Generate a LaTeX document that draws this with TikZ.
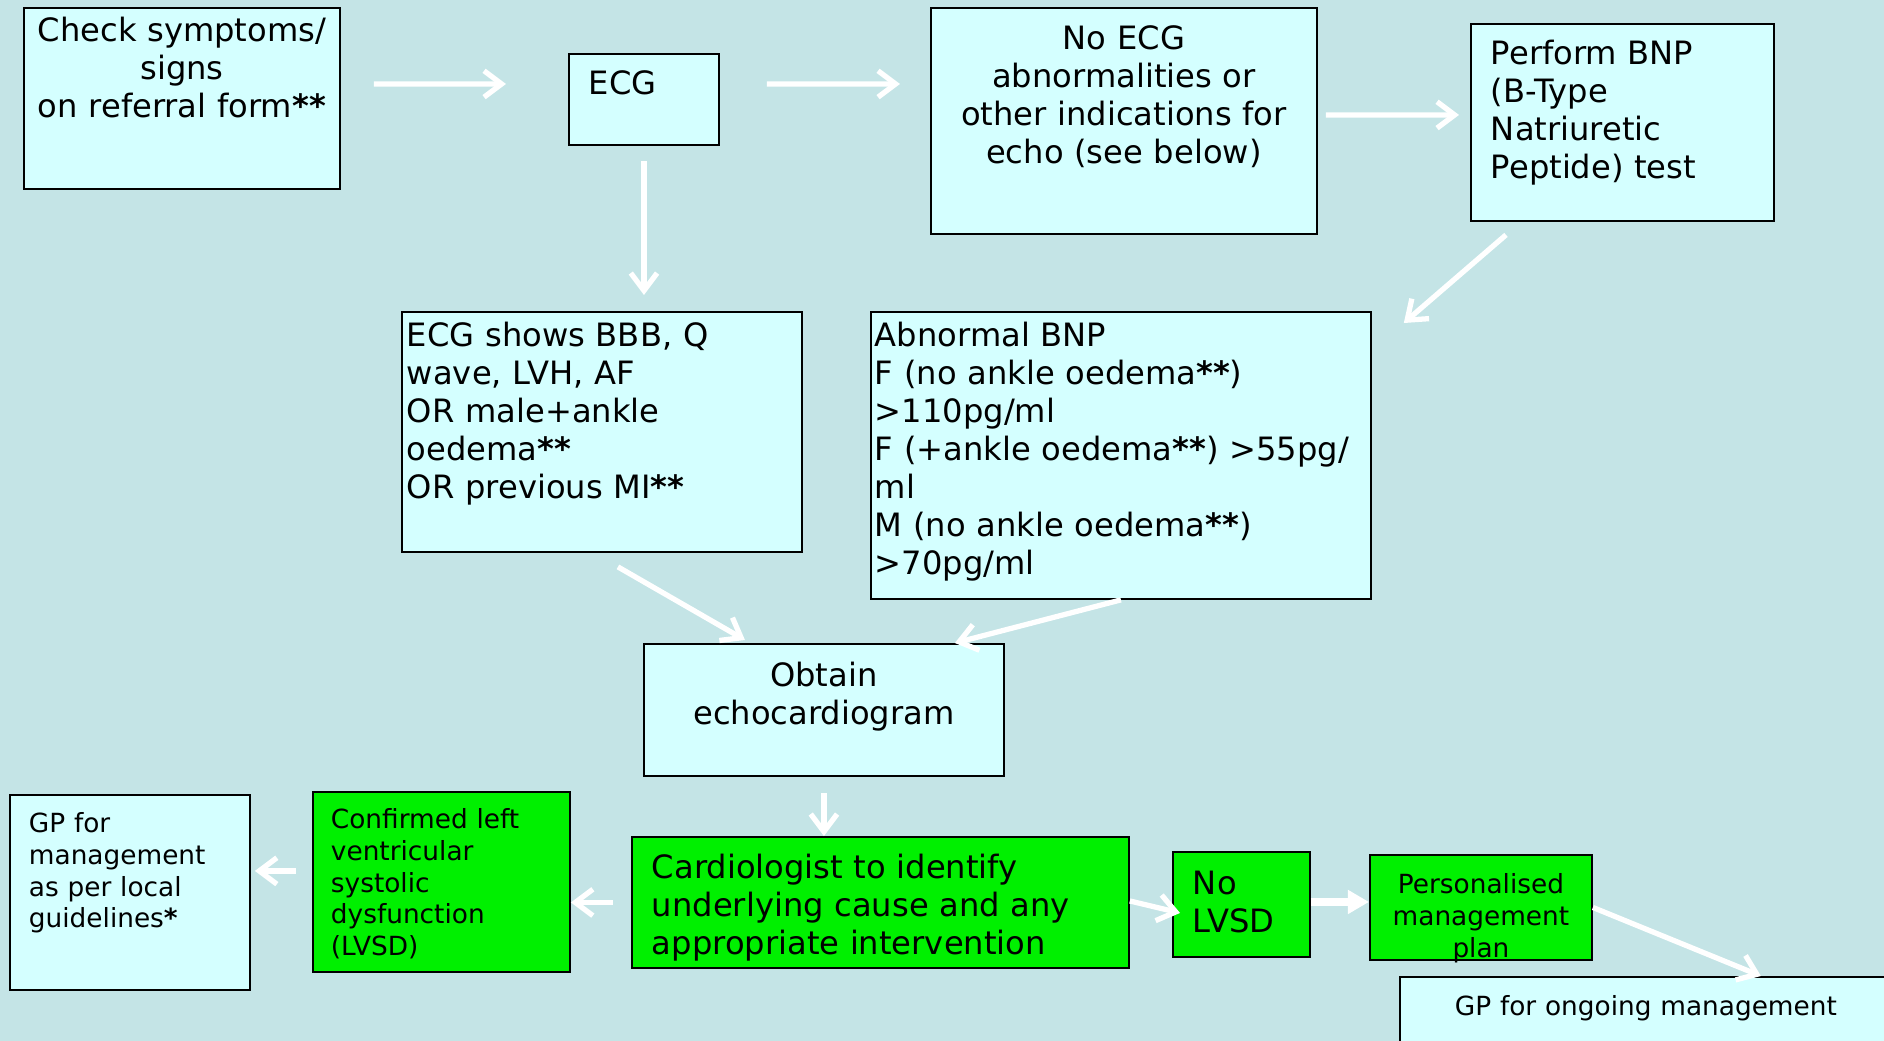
\documentclass[tikz,border=0pt]{standalone}
\usepackage{fontspec}
\setmainfont{DejaVu Sans}
\usetikzlibrary{arrows.meta}
\definecolor{backcol}{RGB}{196,228,230}
\definecolor{boxcol}{RGB}{212,255,255}
\definecolor{greencol}{RGB}{0,240,0}

\begin{document}
\begin{tikzpicture}[x=0.02cm,y=-0.02cm,
  box/.style={draw=black,line width=1.1pt,fill=boxcol,anchor=north west,inner ysep=0pt,font=\fontsize{18.3}{21.6}\selectfont},
  gbox/.style={box,fill=greencol},
  small/.style={font=\fontsize{15}{18}\selectfont},
  flow/.style={draw=white,line width=3pt,-{Straight Barb[length=10pt,width=15pt]}}]
\useasboundingbox (0,0) rectangle (1884,1041);
\clip (0,0) rectangle (1884,1041);
\fill[backcol] (0,0) rectangle (1884,1041);
% top row
\node (check) [box,align=center,inner xsep=0.1cm,text width=6.12cm,text height=0.68cm,text depth=2.94cm] at (23,7) {Check symptoms/\\signs\\on referral form\textbf{**}};
\node (ecg) [box,align=left,inner xsep=0.4cm,text width=2.2cm,text height=0.82cm,text depth=1cm] at (568,53) {ECG};
\node (noecg) [box,align=center,inner xsep=0.36cm,text width=7cm,text height=0.84cm,text depth=3.68cm] at (930,7) {No ECG\\abnormalities or\\other indications for\\echo (see below)};
\node (bnp) [box,align=left,inner xsep=0.4cm,text width=5.26cm,text height=0.82cm,text depth=3.12cm] at (1470,23) {Perform BNP\\(B-Type\\Natriuretic\\Peptide) test};
% middle row
\node (ecgbbb) [box,align=left,inner xsep=0.1cm,text width=7.8cm,text height=0.7cm,text depth=4.1cm] at (401,311) {ECG shows BBB, Q\\wave, LVH, AF\\OR male+ankle\\oedema\textbf{**}\\OR previous MI\textbf{**}};
\node (abnbnp) [box,align=left,inner xsep=0.08cm,text width=9.84cm,text height=0.7cm,text depth=5.04cm] at (870,311) {Abnormal BNP\\F (no ankle oedema\textbf{**})\\>110pg/ml\\F (+ankle oedema\textbf{**}) >55pg/\\ml\\M (no ankle oedema\textbf{**})\\>70pg/ml};
\node (echo) [box,align=center,inner xsep=0.36cm,text width=6.48cm,text height=0.86cm,text depth=1.78cm] at (643,643) {Obtain\\echocardiogram};
% bottom row
\node (cardio) [gbox,align=left,inner xsep=0.4cm,text width=9.14cm,text height=0.84cm,text depth=1.78cm] at (631,836) {Cardiologist to identify\\underlying cause and any\\appropriate intervention};
\node (lvsd) [gbox,small,align=left,inner xsep=0.36cm,text width=4.42cm,text height=0.74cm,text depth=2.86cm] at (312,791) {Confirmed left\\ventricular\\systolic\\dysfunction\\(LVSD)};
\node (gpmgmt) [box,small,align=left,inner xsep=0.38cm,text width=4.04cm,text height=0.76cm,text depth=3.14cm] at (9,794) {GP for\\management\\as per local\\guidelines\textbf{*}};
\node (nolvsd) [gbox,align=left,inner xsep=0.4cm,text width=1.94cm,text height=0.86cm,text depth=1.24cm] at (1172,851) {No\\LVSD};
\node (plan) [gbox,small,align=center,inner xsep=0.2cm,text width=4.04cm,text height=0.78cm,text depth=1.32cm] at (1369,854) {Personalised\\management\\plan};
\node (gpongo) [box,small,align=center,inner xsep=0.36cm,text width=9.12cm,text height=0.78cm,text depth=0.9cm] at (1399,976) {GP for ongoing management};
%
\draw[flow,shorten <=0.66cm,shorten >=1.24cm] ([yshift=0.29cm]check.east) -- ([yshift=0.31cm]ecg.west);
\draw[flow,shorten <=0.94cm,shorten >=0.6cm] ([yshift=0.31cm]ecg.east) -- ([yshift=0.74cm]noecg.west);
\draw[flow,shorten <=0.16cm,shorten >=0.22cm] ([yshift=0.12cm]noecg.east) -- ([yshift=0.15cm]bnp.west);
\draw[flow,shorten <=0.3cm,shorten >=0.32cm] (ecg.south) -- (ecg.south |- ecgbbb.north);
\draw[flow] ([xshift=0.72cm,yshift=-0.26cm]bnp.south west) -- ([xshift=0.64cm,yshift=-0.24cm]abnbnp.north east);
\draw[flow] ([xshift=0.32cm,yshift=-0.28cm]ecgbbb.south) -- ([xshift=-1.58cm,yshift=0.06cm]echo.north);
\draw[flow] (abnbnp.south) -- ([xshift=-1cm]echo.north east);
\draw[flow,shorten <=0.32cm] (echo.south) -- (echo.south |- cardio.north);
%
\draw[flow,shorten <=0.36cm] (cardio.west) -- (cardio.west -| lvsd.east);
\draw[flow,shorten <=0.32cm,shorten >=0.08cm] ([yshift=0.22cm]lvsd.west) -- ([yshift=0.22cm]lvsd.west -| gpmgmt.east);
\draw[flow] ([yshift=0.03cm]cardio.east) -- ([xshift=0.16cm,yshift=-0.17cm]nolvsd.west);
\draw[draw=white,line width=5pt,-{Triangle[length=12pt,width=13pt]}] ([yshift=0.05cm]nolvsd.east) -- ([yshift=0.05cm]nolvsd.east -| plan.west);
\draw[flow] (plan.east) -- ([xshift=2.3cm]gpongo.north);
\end{tikzpicture}
\end{document}
